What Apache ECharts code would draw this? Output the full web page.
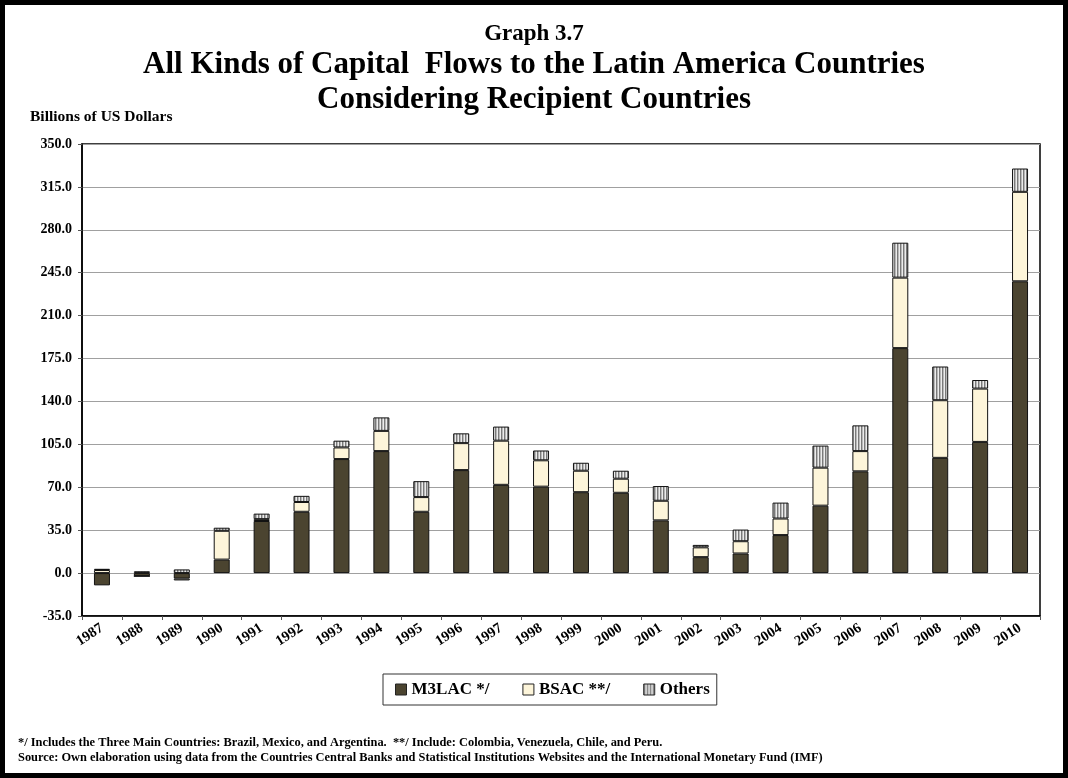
<!DOCTYPE html>
<html>
<head>
<meta charset="utf-8">
<script src="https://cdn.jsdelivr.net/npm/echarts@6/dist/echarts.min.js"></script>
<style>
  html, body { margin: 0; padding: 0; background: #fff; }
  #chart { width: 1068px; height: 778px; }
</style>
</head>
<body>
<div id="chart"></div>
<script>
// Capital flows to Latin America, billions of US dollars, by recipient group
const years = ['1987','1988','1989','1990','1991','1992','1993','1994','1995','1996','1997','1998',
               '1999','2000','2001','2002','2003','2004','2005','2006','2007','2008','2009','2010'];
const m3lac  = [-10, -2.5, -4.5, 11, 42.5, 50, 93, 99.5, 50, 84, 72, 70.5,
                66, 65.5, 43, 13, 16, 31, 55, 83, 183.5, 94, 107, 238];
const bsac   = [2.5, 0, -1.5, 23.5, 1.5, 8, 9.5, 16.5, 12, 22, 36, 21.5,
                17.5, 11.5, 16, 8, 10, 13.5, 31, 16.5, 57.5, 47, 43.5, 73];
const others = [1, 1.5, 3, 2.5, 4.5, 5, 5.5, 11, 13, 8, 11.5, 8,
                6.5, 6.5, 12, 2, 9.5, 13, 18, 21, 28.5, 27.5, 7, 19];
const seriesNames = ['M3LAC */', 'BSAC **/', 'Others'];
const yTicks = { min: -35, max: 350, interval: 35 };

const SERIF = '"Liberation Serif", "Times New Roman", serif';

// vertical-stripe fill for the "Others" segment
function stripePattern() {
  const c = document.createElement('canvas');
  c.width = 3; c.height = 6;
  const g = c.getContext('2d');
  g.fillStyle = '#ececec';
  g.fillRect(0, 0, 3, 6);
  g.fillStyle = '#7a7a7a';
  g.fillRect(0, 0, 1, 6);
  g.fillStyle = '#b8b8b8';
  g.fillRect(1, 0, 1, 6);
  return c;
}
const stripes = { image: stripePattern(), repeat: 'repeat' };

const colors = ['#4b4430', '#fdf5da', stripes];

const chart = echarts.init(document.getElementById('chart'), null, { renderer: 'canvas' });

const series = [m3lac, bsac, others].map((data, i) => ({
  name: seriesNames[i],
  type: 'bar',
  stack: 'flows',
  barWidth: 16,
  data: data,
  itemStyle: { color: colors[i], borderColor: '#111', borderWidth: 1 },
  emphasis: { disabled: true }
}));

chart.setOption({
  animation: false,
  backgroundColor: '#fff',
  title: [
    { text: 'Graph 3.7', left: 'center', top: 18,
      textStyle: { fontFamily: SERIF, fontWeight: 'bold', fontSize: 23, color: '#000' } },
    { text: 'All Kinds of Capital  Flows to the Latin America Countries', left: 'center', top: 44,
      textStyle: { fontFamily: SERIF, fontWeight: 'bold', fontSize: 31, color: '#000' } },
    { text: 'Considering Recipient Countries', left: 'center', top: 79,
      textStyle: { fontFamily: SERIF, fontWeight: 'bold', fontSize: 31, color: '#000' } },
    { text: 'Billions of US Dollars', left: 25, top: 104,
      textStyle: { fontFamily: SERIF, fontWeight: 'bold', fontSize: 15.5, color: '#000' } },
    { text: '*/ Includes the Three Main Countries: Brazil, Mexico, and Argentina.  **/ Include: Colombia, Venezuela, Chile, and Peru.',
      left: 13, top: 732,
      textStyle: { fontFamily: SERIF, fontWeight: 'bold', fontSize: 12.4, color: '#000' } },
    { text: 'Source: Own elaboration using data from the Countries Central Banks and Statistical Institutions Websites and the International Monetary Fund (IMF)',
      left: 13, top: 747,
      textStyle: { fontFamily: SERIF, fontWeight: 'bold', fontSize: 12.4, color: '#000' } }
  ],
  legend: {
    data: seriesNames,
    left: 383,
    top: 674,
    orient: 'horizontal',
    itemWidth: 11,
    itemHeight: 11,
    itemGap: 33,
    padding: [7, 7, 7, 12],
    borderColor: '#333',
    borderWidth: 1,
    icon: 'rect',
    itemStyle: { borderColor: '#222', borderWidth: 1 },
    textStyle: { fontFamily: SERIF, fontWeight: 'bold', fontSize: 17, color: '#000' },
    selectedMode: false
  },
  grid: {
    left: 82, right: 28, top: 144, bottom: 162,
    show: true, borderColor: '#000', borderWidth: 1.5, backgroundColor: 'transparent'
  },
  xAxis: {
    type: 'category',
    data: years,
    axisLine: { onZero: false, lineStyle: { color: '#000', width: 1.5 } },
    axisTick: { show: true, length: 4, lineStyle: { color: '#555' } },
    axisLabel: {
      rotate: 33, margin: 11, interval: 0,
      fontFamily: SERIF, fontWeight: 'bold', fontSize: 14.5, color: '#000'
    }
  },
  yAxis: {
    type: 'value',
    min: yTicks.min, max: yTicks.max, interval: yTicks.interval,
    axisLine: { show: true, lineStyle: { color: '#000', width: 1.5 } },
    axisTick: { show: true, length: 4, lineStyle: { color: '#555' } },
    splitLine: { lineStyle: { color: '#a0a0a0', width: 1.2 } },
    axisLabel: {
      margin: 10,
      formatter: v => v.toFixed(1),
      fontFamily: SERIF, fontWeight: 'bold', fontSize: 14, color: '#000'
    }
  },
  graphic: [
    { type: 'rect', silent: true, z: 100,
      shape: { x: 2.5, y: 2.5, width: 1063, height: 773 },
      style: { fill: 'none', stroke: '#000', lineWidth: 5 } }
  ],
  series: series
});
</script>
</body>
</html>
